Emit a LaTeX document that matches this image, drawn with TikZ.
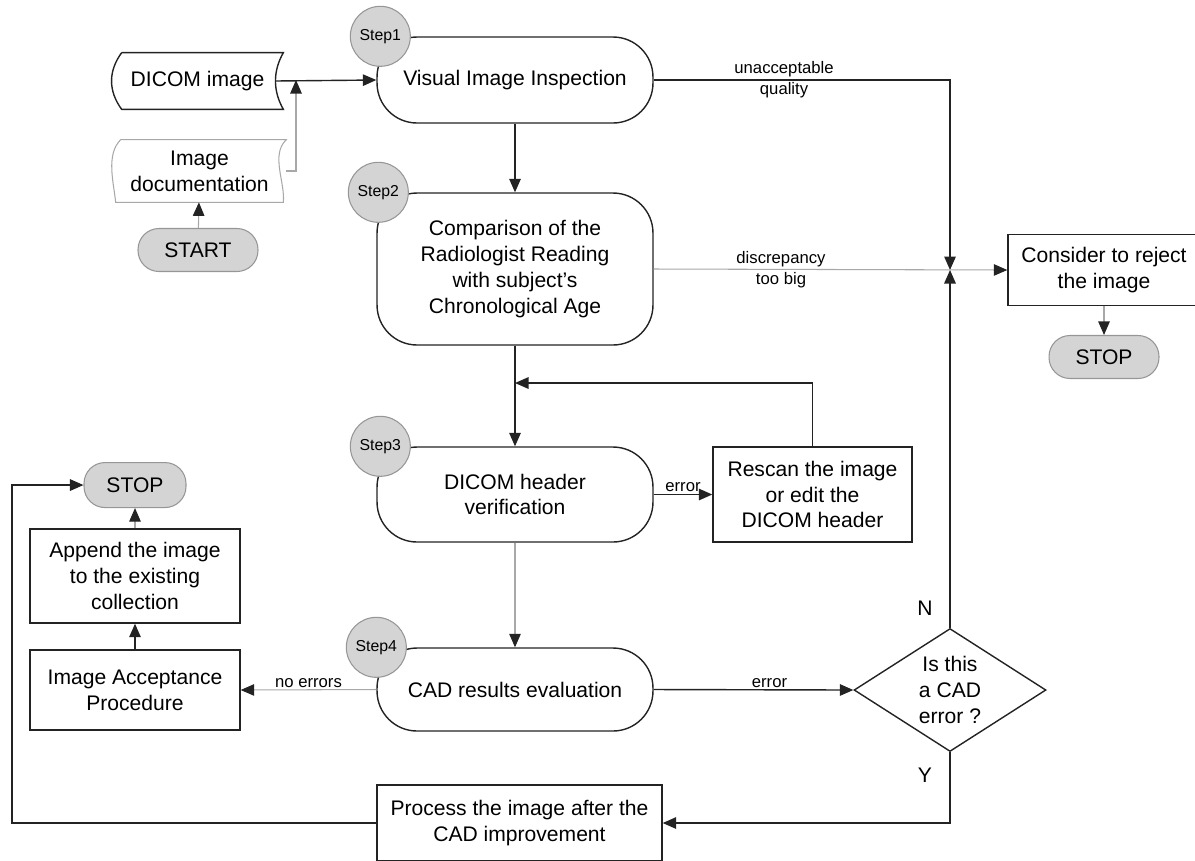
\documentclass[tikz,border=0pt]{standalone}
\usepackage{fontspec}
\setmainfont{Liberation Sans}
\usetikzlibrary{arrows.meta,shapes.geometric}

\definecolor{termgray}{RGB}{212,212,212}
\definecolor{rimgray}{RGB}{150,150,150}
\definecolor{linegray}{RGB}{168,168,168}
\definecolor{ink}{RGB}{35,35,35}

\begin{document}
\begin{tikzpicture}[x=0.02cm, y=-0.02cm, font=\fontsize{12}{14.7}\selectfont]
    \tikzstyle{stage} = [rectangle, rounded corners=0.8cm, draw=ink, line width=0.8pt, minimum width=5.52cm, align=center, inner sep=0pt]
    \tikzstyle{box} = [rectangle, draw=ink, line width=0.8pt, align=center, inner sep=0pt]
    \tikzstyle{terminal} = [rectangle, rounded corners=0.42cm, draw=rimgray, fill=termgray, line width=0.6pt, minimum height=0.86cm, inner sep=0pt]
    \tikzstyle{stepmark} = [circle, draw=rimgray, fill=termgray, line width=0.6pt, minimum size=1.2cm, inner sep=0pt, font=\fontsize{9}{11}\selectfont]
    \tikzstyle{decision} = [diamond, aspect=1.56, draw=ink, line width=0.8pt, minimum width=3.84cm, minimum height=2.46cm, align=center, inner sep=0pt]
    \tikzstyle{tag} = [font=\fontsize{9.5}{12}\selectfont, align=center, inner sep=1pt]
    \tikzstyle{arrow} = [draw=ink, line width=0.8pt, -{Triangle[length=0.27cm, width=0.23cm]}]
    \tikzstyle{greyarrow} = [draw=linegray, line width=0.6pt, -{Triangle[length=0.27cm, width=0.23cm, color=ink]}]

    \useasboundingbox (0,0) rectangle (1195,860);
    \clip (0,0) rectangle (1195,860);

    % Inputs
    \node [minimum width=3.42cm, minimum height=1.12cm, inner sep=0pt] (dicom) at (197.5,81) {DICOM image};
    \node [minimum width=3.46cm, minimum height=1.24cm, inner sep=0pt, align=center] (imgdoc) at (199.5,171) {Image\\documentation};
    \node [terminal, minimum width=2.4cm] (start) at (198,250) {START};

    \draw [ink, line width=0.8pt] ([xshift=0.2cm]dicom.north west) -- (dicom.north east)
        .. controls +(-0.21cm,-0.37cm) and +(-0.21cm,0.37cm) .. (dicom.south east)
        -- ([xshift=0.2cm]dicom.south west)
        .. controls +(-0.27cm,0.37cm) and +(-0.27cm,-0.37cm) .. ([xshift=0.2cm]dicom.north west);
    \draw [linegray, line width=0.6pt] ([xshift=0.16cm]imgdoc.north west) -- (imgdoc.north east)
        .. controls +(-0.32cm,-0.3cm) and +(0.04cm,0.4cm) .. ([xshift=-0.06cm]imgdoc.south east)
        -- ([xshift=0.06cm]imgdoc.south west)
        .. controls +(-0.04cm,0.4cm) and +(-0.3cm,-0.3cm) .. ([xshift=0.16cm]imgdoc.north west);

    % Steps
    \node [stage, minimum height=1.72cm] (visual) at (515,80) {Visual Image Inspection};
    \node [stage, minimum height=3.04cm] (comp) at (515,269) {Comparison of the\\Radiologist Reading\\with subject’s\\Chronological Age};
    \node [stage, minimum height=1.9cm] (hdr) at (515,494.5) {DICOM header\\verification};
    \node [stage, minimum height=1.66cm] (cad) at (515,689.5) {CAD results evaluation};

    \node [stepmark] (step1) at ([xshift=0.08cm]visual.north west) {Step1};
    \node [stepmark] (step2) at ([xshift=0.04cm]comp.north west) {Step2};
    \node [stepmark] (step3) at ([xshift=0.08cm]hdr.north west) {Step3};
    \node [stepmark] (step4) at (cad.north west) {Step4};

    % Reject branch
    \node [box, minimum width=3.84cm, minimum height=1.42cm] (reject) at (1104,270) {Consider to reject\\the image};
    \node [terminal, minimum width=2.2cm, below of=reject, node distance=1.74cm] (stopright) {STOP};

    % Error handling
    \node [box, minimum width=3.98cm, minimum height=1.9cm] (rescan) at (812.5,494.5) {Rescan the image\\or edit the\\DICOM header};
    \node [decision] (cadq) at (950,690) {Is this\\a CAD\\error ?};
    \node (no) at (925,608) {N};
    \node (yes) at (925,775) {Y};
    \node [box, minimum width=5.7cm, minimum height=1.52cm] (improve) at (519.5,823) {Process the image after the\\CAD improvement};

    % Acceptance
    \node [box, minimum width=4.2cm, minimum height=1.6cm] (accept) at (135,690) {Image Acceptance\\Procedure};
    \node [box, minimum width=4.2cm, minimum height=1.88cm, above of=accept, node distance=2.28cm] (append) {Append the image\\to the existing\\collection};
    \node [terminal, minimum width=2.04cm, minimum height=0.9cm, above of=append, node distance=1.82cm] (stopleft) {STOP};

    \coordinate (feed) at (296,80);
    \coordinate (merge) at (950,270);
    \coordinate (retry) at (515,383);
    \coordinate (back) at (12,823);

    \draw [arrow] ([xshift=-0.16cm]dicom.east) -- (visual.west);
    \draw [greyarrow] (imgdoc.east) -| (feed);
    \draw [greyarrow] (start) -- (imgdoc);
    \draw [arrow] (visual) -- (comp);
    \draw [arrow] (visual.east) -| node [tag, pos=0.22] {unacceptable\\quality} (merge);
    \draw [greyarrow] (comp.east) -- node [tag, pos=0.36] {discrepancy\\too big} (reject.west);
    \draw [arrow] (cadq.north) -- (merge);
    \draw [greyarrow] (reject) -- (stopright);

    \draw [arrow] (comp) -- (hdr);
    \draw [arrow] (rescan.north) |- (retry);
    \draw [arrow] (hdr.east) -- node [tag, above] {error} (rescan.west);
    \draw [greyarrow] (hdr) -- (cad);
    \draw [arrow] (cad.east) -- node [tag, above, pos=0.58] {error} (cadq.west);
    \draw [greyarrow] (cad.west) -- node [tag, above] {no errors} (accept.east);

    \draw [arrow] (accept) -- (append);
    \draw [greyarrow] (append) -- (stopleft);
    \draw [arrow] (cadq.south) |- (improve.east);
    \draw [arrow] (improve.west) -- (back) |- (stopleft.west);
\end{tikzpicture}
\end{document}
